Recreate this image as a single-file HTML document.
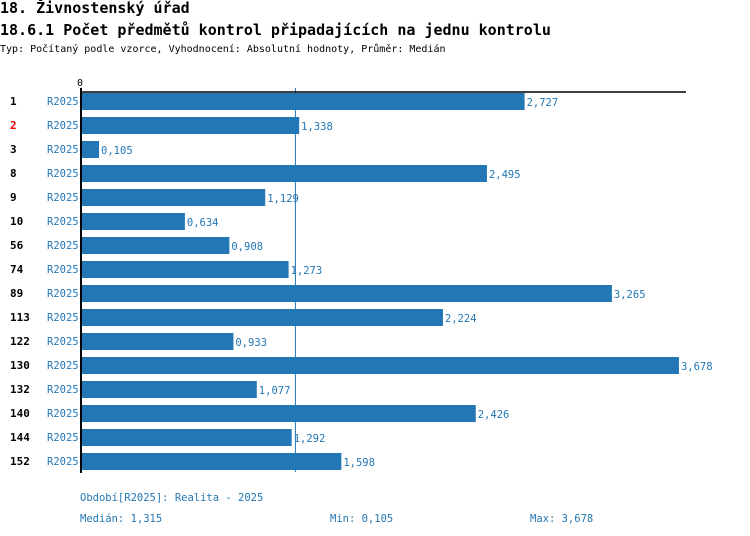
<!DOCTYPE html>
<html><head><meta charset="utf-8"><style>
body{margin:0;background:#fff;width:750px;height:536px;overflow:hidden;font-family:"DejaVu Sans Mono","Liberation Mono",monospace}
.t{position:absolute;white-space:nowrap;color:#000}
</style></head><body>
<div class="t" style="left:0;top:-1px;font-size:15px;font-weight:bold">18. Živnostenský úřad</div>
<div class="t" style="left:0;top:21px;font-size:15px;font-weight:bold">18.6.1 Počet předmětů kontrol připadajících na jednu kontrolu</div>
<div class="t" style="left:0;top:44px;font-size:10px">Typ: Počítaný podle vzorce, Vyhodnocení: Absolutní hodnoty, Průměr: Medián</div>
<svg id="c" width="750" height="536" style="position:absolute;left:0;top:0"></svg>
<script>
const categories=["1","2","3","8","9","10","56","74","89","113","122","130","132","140","144","152"];
const values=[2.727,1.338,0.105,2.495,1.129,0.634,0.908,1.273,3.265,2.224,0.933,3.678,1.077,2.426,1.292,1.598];
const highlighted=["2"];
const seriesLabel="R2025";
const median=1.315, minV=0.105, maxV=3.678;
const NS="http://www.w3.org/2000/svg";
const svg=document.getElementById('c');
const x0=82, scale=162.3;
const xs=v=>x0+v*scale;
const rowTop=i=>93+24*i;
const fmt=v=>v.toFixed(3).replace('.',',');
function mk(tag,attrs,txt){const e=document.createElementNS(NS,tag);for(const k in attrs)e.setAttribute(k,attrs[k]);if(txt!==undefined)e.textContent=txt;svg.appendChild(e);return e;}
const f='font-family:"DejaVu Sans Mono","Liberation Mono",monospace;';
let z=mk('text',{x:77,y:86,style:f+'font-size:10px'},'0');


values.forEach((v,i)=>{
  const y=rowTop(i);
  const b=mk('rect',{x:x0,y:y,width:xs(v)-x0,height:17,fill:'#2277b4'});
  
  
  const vl=mk('text',{x:xs(v)+2,y:y+13,fill:'#2277b4',style:f+'font-size:10.5px'},fmt(v));
  
  
  const cl=mk('text',{x:10,y:y+12,fill:highlighted.includes(categories[i])?'#e00':'#000',style:f+'font-size:11px;font-weight:bold'},categories[i]);
  
  
  const sl=mk('text',{x:47,y:y+12,fill:'#2277b4',style:f+'font-size:10.5px'},seriesLabel);
  
  
});
const ml=mk('line',{x1:xs(median),x2:xs(median),y1:88,y2:472,stroke:'#2277b4','stroke-width':1});


const ax=mk('line',{x1:81,x2:81,y1:88,y2:473,stroke:'#000','stroke-width':2});


const tx=mk('line',{x1:80,x2:686,y1:92,y2:92,stroke:'#000','stroke-width':1.5});


const foot=[[80,501,'Období[R2025]: Realita - 2025','footer-period'],[80,522,'Medián: '+fmt(median),'footer-median'],[330,522,'Min: '+fmt(minV),'footer-min'],[530,522,'Max: '+fmt(maxV),'footer-max']];
foot.forEach(a=>{const t=mk('text',{x:a[0],y:a[1],fill:'#2277b4',style:f+'font-size:10.5px'},a[2]);

});
</script>
</body></html>
